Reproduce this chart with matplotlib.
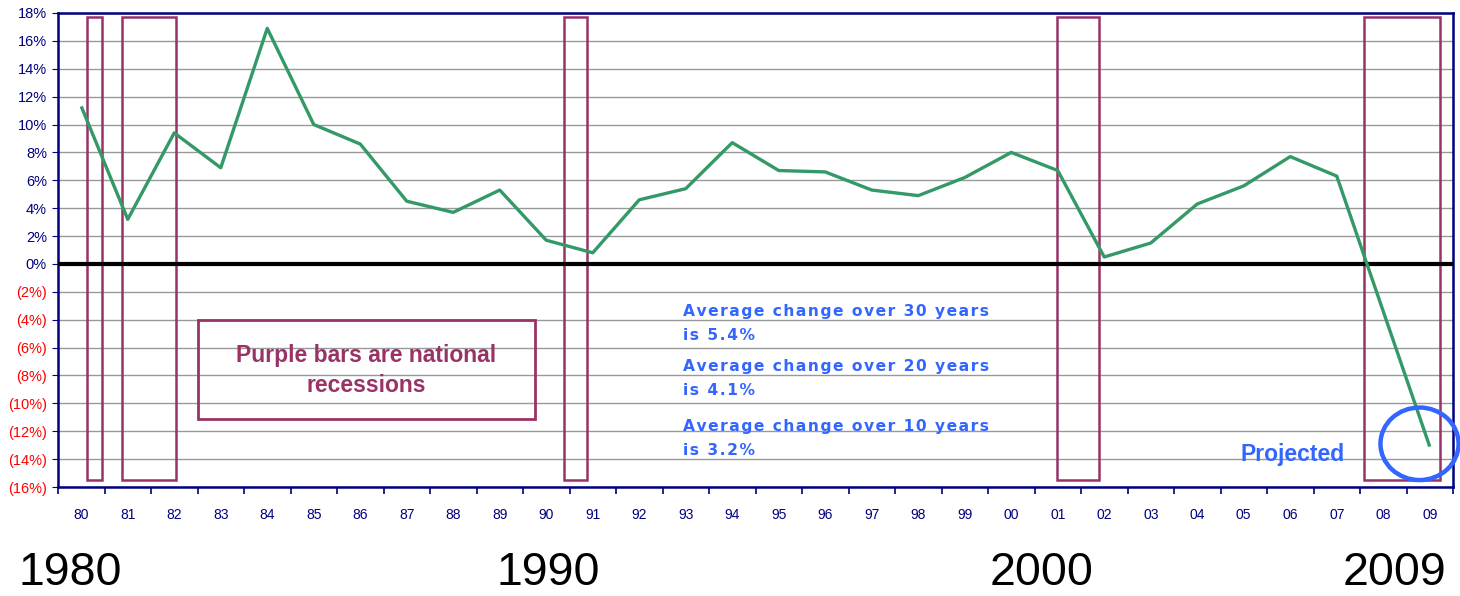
import matplotlib
matplotlib.use("Agg")
import matplotlib.pyplot as plt
from matplotlib.patches import Rectangle, Ellipse

years = ["80", "81", "82", "83", "84", "85", "86", "87", "88", "89",
         "90", "91", "92", "93", "94", "95", "96", "97", "98", "99",
         "00", "01", "02", "03", "04", "05", "06", "07", "08", "09"]
values = [11.3, 3.2, 9.4, 6.9, 16.9, 10.0, 8.6, 4.5, 3.7, 5.3,
          1.7, 0.8, 4.6, 5.4, 8.7, 6.7, 6.6, 5.3, 4.9, 6.2,
          8.0, 6.7, 0.5, 1.5, 4.3, 5.6, 7.7, 6.3, -3.4, -13.1]
# recession spans in category-index units (start, end)
recessions = [(0.12, 0.44), (0.87, 2.04), (10.38, 10.88), (20.98, 21.89), (27.59, 29.22)]
ytick_vals = list(range(-16, 19, 2))
ytick_labels = [f"{v}%" if v >= 0 else f"({-v}%)" for v in ytick_vals]
decade_labels = ["1980", "1990", "2000", "2009"]
decade_x = [18, 497, 990, 1343]
note_lines = ["Average change over 30 years", "is 5.4%",
              "Average change over 20 years", "is 4.1%",
              "Average change over 10 years", "is 3.2%"]
note_baselines = [-3.73, -5.45, -7.65, -9.40, -11.96, -13.70]
box_lines = ["Purple bars are national", "recessions"]
box_baselines = [-7.01, -9.18]

NAVY = "#000080"
PURPLE = "#993366"
BLUE = "#3366FF"
GREEN = "#339966"

plt.rcParams['font.family'] = ['Liberation Sans', 'DejaVu Sans']

fig = plt.figure(figsize=(14.6, 5.96), dpi=100)
ax = fig.add_axes([58/1460, 1-487/596, (1453-58)/1460, (487-13)/596])

x = list(range(len(years)))
ax.set_xlim(-0.5, len(years) - 0.5)
ax.set_ylim(-16, 18)

for v in ytick_vals:
    ax.axhline(v, color="#999999", lw=1.0, zorder=1)
ax.axhline(0, color="black", lw=3, zorder=3)

for s, e in recessions:
    ax.add_patch(Rectangle((s, -15.5), e - s, 17.7 + 15.5, fill=False,
                           edgecolor=PURPLE, lw=1.8, zorder=2))

ax.plot(x, values, color=GREEN, lw=2.4, zorder=4, solid_capstyle="butt")

# legend-like text box
ax.add_patch(Rectangle((2.51, -11.1), 9.76 - 2.51, 7.1, fill=False,
                       edgecolor=PURPLE, lw=2.0, zorder=2))
for t, yb in zip(box_lines, box_baselines):
    ax.text((2.51 + 9.76) / 2, yb, t, ha="center", va="baseline", color=PURPLE,
            fontsize=16.5, fontweight="bold", zorder=5)

HAIR = "\u200a"
for t, yb in zip(note_lines, note_baselines):
    spaced = HAIR.join(t)
    ax.text(12.94, yb, spaced, ha="left", va="baseline", color=BLUE, fontsize=11.2,
            fontweight="bold", family="DejaVu Sans", zorder=5)

ax.text(27.18, -14.13, "Projected", ha="right", va="baseline", color=BLUE,
        fontsize=16.5, fontweight="bold", zorder=5)
ax.add_patch(Ellipse((28.78, -12.9), 1.68, 5.2, fill=False, edgecolor=BLUE,
                     lw=3.2, zorder=6, clip_on=False))

for sp in ax.spines.values():
    sp.set_color(NAVY)
    sp.set_linewidth(1.8)

ax.set_yticks(ytick_vals)
ax.set_yticklabels(ytick_labels)
for lab, v in zip(ax.get_yticklabels(), ytick_vals):
    lab.set_color(NAVY if v >= 0 else "red")
    lab.set_fontsize(10.5)
ax.tick_params(axis="y", direction="out", length=4, color=NAVY, pad=4)

ax.set_xticks(x)
ax.set_xticklabels(years, color=NAVY, fontsize=10)
ax.tick_params(axis="x", which="major", length=0, pad=15)
ax.set_xticks([i - 0.5 for i in range(len(years) + 1)], minor=True)
ax.tick_params(axis="x", which="minor", direction="out", length=5, color=NAVY, width=1.2)

for lab, px in zip(decade_labels, decade_x):
    fig.text(px / 1460, 1 - 585 / 596, lab, ha="left", va="baseline",
             fontsize=33.5, color="black")

fig.savefig("out.png", dpi=100)
